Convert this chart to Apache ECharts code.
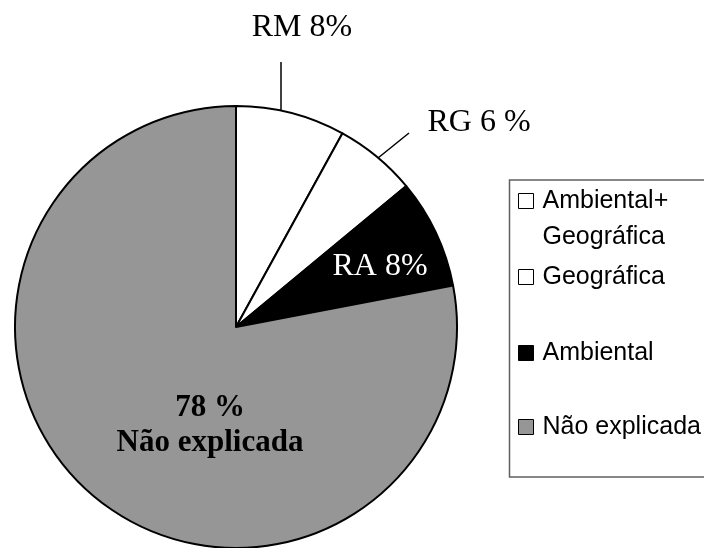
<!DOCTYPE html>
<html><head><meta charset="utf-8">
<script src="https://cdn.jsdelivr.net/npm/echarts@6/dist/echarts.min.js"></script>
<style>html,body{margin:0;padding:0;background:#fff}#c{width:704px;height:548px}</style>
</head><body><div id="c"></div>
<script>
const categories = ['Ambiental+ Geográfica', 'Geográfica', 'Ambiental', 'Não explicada'];
const values = [8, 6, 8, 78];
const sliceLabels = ['RM 8%', 'RG 6 %', 'RA 8%', '78 %\nNão explicada'];
const legendLabels = [' \nAmbiental+\nGeográfica', 'Geográfica', 'Ambiental', 'Não explicada'];
const colors = ['#ffffff', '#ffffff', '#000000', '#969696'];

// label placement (centre x, centre y) and leader lines
const labelPos = [[302, 28], [479, 123], [380, 267], [210, 425]];
const leader = [[[281, 111], [281, 62], [281, 62]], [[378, 158], [409, 133], [409, 133]], null, null];
const legendCenters = [201, 277, 353, 427];
const LH = 36;

const chart = echarts.init(document.getElementById('c'), null, {renderer: 'canvas'});
chart.setOption({
  animation: false,
  graphic: [{
    type: 'rect', z: -10,
    shape: {x: 509.5, y: 180, width: 230, height: 297},
    style: {fill: 'none', stroke: '#606060', lineWidth: 1.5}
  }],
  legend: legendLabels.map((lab, i) => ({
    data: [categories[i]],
    left: 518,
    top: i === 0 ? legendCenters[i] - 1.5 * LH : legendCenters[i] - LH / 2,
    orient: 'vertical', padding: 0,
    itemWidth: 15, itemHeight: 15, icon: 'rect',
    selectedMode: false,
    itemStyle: {borderColor: '#000', borderWidth: 1},
    formatter: () => lab,
    textStyle: {
      fontFamily: 'Liberation Sans', fontSize: 25, color: '#000', lineHeight: LH,
      padding: [0, 0, 0, 4]
    }
  })),
  series: [{
    type: 'pie',
    center: [236, 327],
    radius: 221,
    startAngle: 90,
    clockwise: true,
    avoidLabelOverlap: false,
    emphasis: {disabled: true},
    itemStyle: {borderColor: '#000', borderWidth: 2},
    label: {
      show: true, fontFamily: 'Liberation Serif', fontSize: 32, color: '#000',
      formatter: p => sliceLabels[p.dataIndex]
    },
    labelLine: {show: true, length: 20, length2: 10, lineStyle: {color: '#000', width: 1.5}},
    labelLayout: p => {
      const i = p.dataIndex;
      const o = {x: labelPos[i][0], y: labelPos[i][1], align: 'center', verticalAlign: 'middle'};
      if (leader[i]) o.labelLinePoints = leader[i];
      return o;
    },
    data: categories.map((n, i) => {
      const d = {name: n, value: values[i], itemStyle: {color: colors[i]}};
      if (i === 2) { d.label = {position: 'inside', color: '#fff'}; d.labelLine = {show: false}; }
      if (i === 3) { d.label = {position: 'inside', fontWeight: 'bold', fontSize: 31, lineHeight: 35}; d.labelLine = {show: false}; }
      return d;
    })
  }]
});
</script></body></html>
